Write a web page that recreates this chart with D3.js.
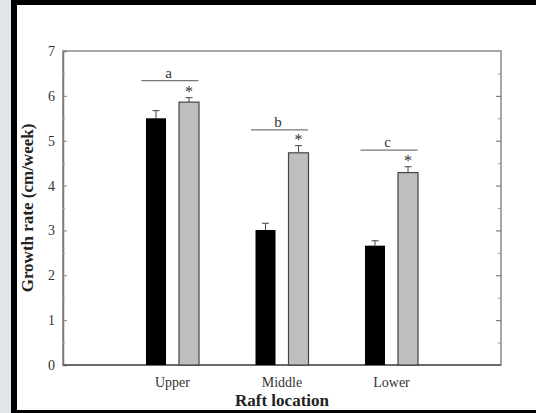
<!DOCTYPE html>
<html>
<head>
<meta charset="utf-8">
<script src="https://cdn.jsdelivr.net/npm/d3@7"></script>
<style>
  html, body { margin: 0; padding: 0; background: #000; }
  svg { display: block; }
</style>
</head>
<body>
<svg id="chart"></svg>
<script>
// data
var categories = ["Upper", "Middle", "Lower"];
var controlMeans = [5.50, 3.01, 2.66];
var controlErrors = [0.17, 0.15, 0.11];
var treatedMeans = [5.86, 4.73, 4.29];
var treatedErrors = [0.10, 0.16, 0.13];
var groupLetters = ["a", "b", "c"];
var letterLevels = [6.34, 5.24, 4.79];
var yTicks = [0, 1, 2, 3, 4, 5, 6, 7];

var W = 536, H = 413;
var margin = { top: 51, right: 35, bottom: 48, left: 63 },
    width = W - margin.left - margin.right,
    height = H - margin.top - margin.bottom;

var serif = "'Liberation Serif', 'Times New Roman', serif";

var svgRoot = d3.select("#chart").attr("width", W).attr("height", H);

// background: marble strip on the left, black frame, white panel
svgRoot.append("rect").attr("width", W).attr("height", H).attr("fill", "#000");
svgRoot.append("rect").attr("x", 0).attr("y", 0).attr("width", 11).attr("height", H).attr("fill", "#e3e7eb");
svgRoot.append("rect").attr("x", 17).attr("y", 5).attr("width", W - 17).attr("height", 405).attr("fill", "#fff");

var svg = svgRoot.append("g")
    .attr("transform", "translate(" + margin.left + "," + margin.top + ")");

// categories sit at 1, 2, 3 on a 0..4 axis
var xScale = d3.scaleLinear().domain([0, 4]).range([0, width]);
var yScale = d3.scaleLinear().domain([0, 7]).range([height, 0]);

var barW = 20, offset = 16.5;

// frame
svg.append("rect")
    .attr("width", width)
    .attr("height", height)
    .attr("fill", "none")
    .attr("stroke", "#8a8a8a")
    .attr("stroke-width", 1.5);

// minor tick values
var minorTicks = d3.range(0.5, 7, 1);

// left axis, ticks inward
var yAxisL = d3.axisLeft(yScale).tickValues(yTicks).tickSize(-4).tickPadding(8).tickFormat(d3.format("d"));
var gl = svg.append("g").attr("class", "y axis").call(yAxisL);
gl.attr("font-family", serif);
gl.select(".domain").attr("stroke", "#777").attr("stroke-width", 1.5);
gl.selectAll(".tick line").attr("stroke", "#888");
gl.selectAll(".tick text")
    .attr("fill", "#333")
    .style("font-family", serif)
    .style("font-size", "14px");
svg.append("g").call(d3.axisLeft(yScale).tickValues(minorTicks).tickSize(-2).tickFormat(""))
    .call(function (g) { g.select(".domain").remove(); })
    .selectAll("line").attr("stroke", "#aaa");

// right axis, ticks inward
svg.append("g").attr("transform", "translate(" + width + ",0)")
    .call(d3.axisRight(yScale).tickValues(yTicks.slice(1, 7)).tickSize(-5).tickFormat(""))
    .call(function (g) { g.select(".domain").remove(); })
    .selectAll("line").attr("stroke", "#666");
svg.append("g").attr("transform", "translate(" + width + ",0)")
    .call(d3.axisRight(yScale).tickValues(minorTicks).tickSize(-3).tickFormat(""))
    .call(function (g) { g.select(".domain").remove(); })
    .selectAll("line").attr("stroke", "#999");

// bottom axis line
svg.append("line")
    .attr("x1", 0).attr("x2", width)
    .attr("y1", height).attr("y2", height)
    .attr("stroke", "#555").attr("stroke-width", 1.5);

// category labels
svg.selectAll(".cat")
    .data(categories)
    .enter().append("text")
    .attr("class", "cat")
    .attr("x", function (d, i) { return xScale(i + 1); })
    .attr("y", height + 22)
    .attr("text-anchor", "middle")
    .attr("fill", "#333")
    .style("font-family", serif)
    .style("font-size", "14px")
    .text(function (d) { return d; });

// bars
var groups = categories.map(function (c, i) {
    return { i: i, cm: controlMeans[i], ce: controlErrors[i], tm: treatedMeans[i], te: treatedErrors[i] };
});

function drawErr(sel, cx, mean, err) {
    sel.append("line")
        .attr("x1", cx).attr("x2", cx)
        .attr("y1", yScale(mean)).attr("y2", yScale(mean + err))
        .attr("stroke", "#444").attr("stroke-width", 1);
    sel.append("line")
        .attr("x1", cx - 3.5).attr("x2", cx + 3.5)
        .attr("y1", yScale(mean + err)).attr("y2", yScale(mean + err))
        .attr("stroke", "#444").attr("stroke-width", 1);
}

groups.forEach(function (g) {
    var cx = xScale(g.i + 1);
    drawErr(svg, cx - offset, g.cm, g.ce);
    drawErr(svg, cx + offset, g.tm, g.te);

    svg.append("rect")
        .attr("x", cx - offset - barW / 2)
        .attr("y", yScale(g.cm))
        .attr("width", barW)
        .attr("height", height - yScale(g.cm))
        .attr("fill", "#000");

    svg.append("rect")
        .attr("x", cx + offset - barW / 2)
        .attr("y", yScale(g.tm))
        .attr("width", barW)
        .attr("height", height - yScale(g.tm))
        .attr("fill", "#bebebe")
        .attr("stroke", "#444")
        .attr("stroke-width", 1.2);

    // asterisk above the treated bar
    svg.append("text")
        .attr("x", cx + offset)
        .attr("y", yScale(g.tm + g.te) - 0.5)
        .attr("text-anchor", "middle")
        .attr("fill", "#333")
        .style("font-family", serif)
        .style("font-size", "16px")
        .text("*");

    // group letter over a line
    svg.append("line")
        .attr("x1", cx - 31).attr("x2", cx + 26)
        .attr("y1", yScale(letterLevels[g.i])).attr("y2", yScale(letterLevels[g.i]))
        .attr("stroke", "#777").attr("stroke-width", 1.3);
    svg.append("text")
        .attr("x", cx - 4)
        .attr("y", yScale(letterLevels[g.i]) - 3)
        .attr("text-anchor", "middle")
        .attr("fill", "#333")
        .style("font-family", serif)
        .style("font-size", "15px")
        .text(groupLetters[g.i]);
});

// axis titles
svg.append("text")
    .attr("transform", "rotate(-90)")
    .attr("x", -(yScale(3.5)))
    .attr("y", -30)
    .attr("text-anchor", "middle")
    .attr("fill", "#222")
    .style("font-family", serif)
    .style("font-weight", "bold")
    .style("font-size", "17px")
    .text("Growth rate (cm/week)");

svg.append("text")
    .attr("x", xScale(2))
    .attr("y", height + 41)
    .attr("text-anchor", "middle")
    .attr("fill", "#222")
    .style("font-family", serif)
    .style("font-weight", "bold")
    .style("font-size", "17px")
    .text("Raft location");
</script>
</body>
</html>
